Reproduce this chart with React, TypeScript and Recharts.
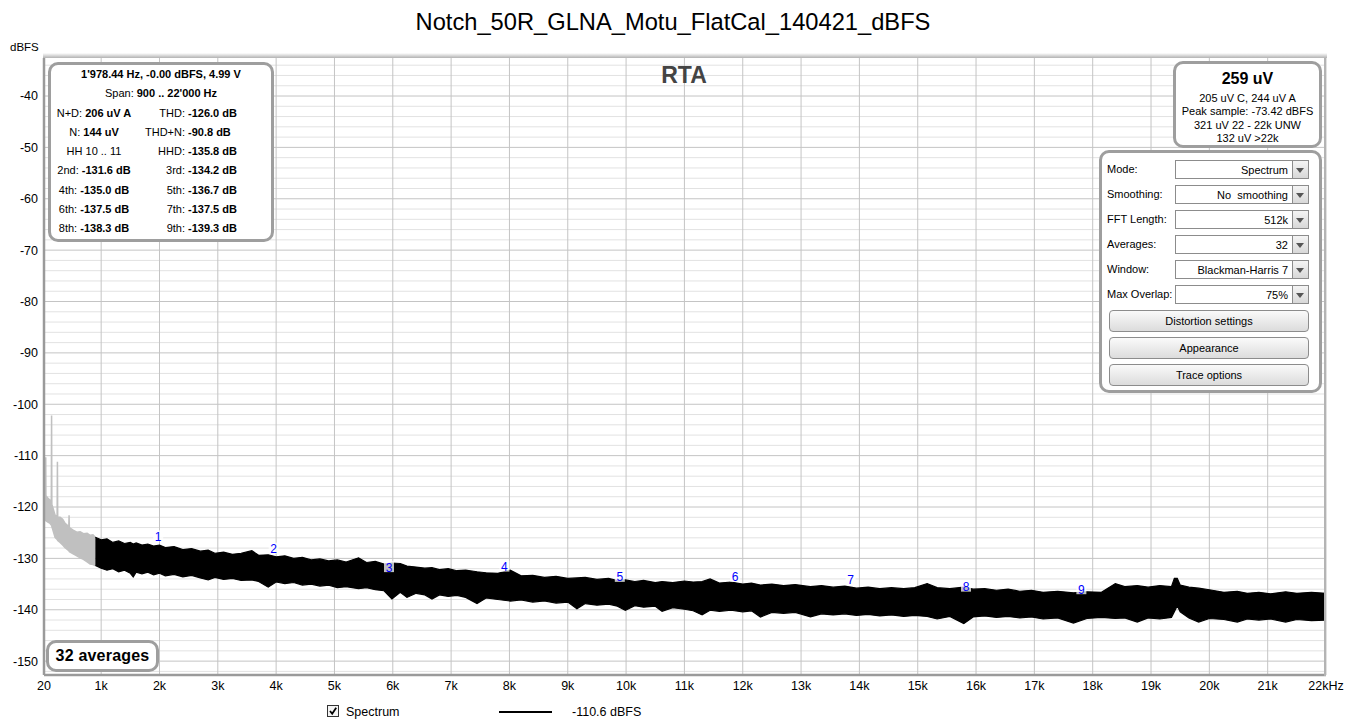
import React from "react";
import { ComposedChart, Area, Scatter, XAxis, YAxis, CartesianGrid } from "recharts";

const FONT = '"Liberation Sans", Arial, Helvetica, sans-serif';

// axis ticks
const freqTicks = [
  20, 1000, 2000, 3000, 4000, 5000, 6000, 7000, 8000, 9000, 10000, 11000,
  12000, 13000, 14000, 15000, 16000, 17000, 18000, 19000, 20000, 21000, 22000,
];
const levelTicks = [-150, -140, -130, -120, -110, -100, -90, -80, -70, -60, -50, -40];
const minorLevels = Array.from({ length: 60 }, (_, i) => -152 + 2 * i).filter(
  (v) => v % 10 !== 0 && v < -32
);

// below span start (grey part of the trace), with mains hum spikes
const grayFreq = [20, 40, 47, 50, 53, 80, 125, 145, 150, 155, 210, 245, 250, 255, 296, 340, 382, 445, 450, 455, 520, 582, 640, 696, 760, 811, 860, 900];
const grayTop = [-116.1, -117.0, -117.6, -110.3, -117.8, -118.2, -118.7, -119.0, -102.2, -119.5, -121.6, -121.8, -111.2, -122.0, -122.0, -122.4, -123.2, -123.8, -121.6, -124.0, -124.5, -124.9, -124.8, -125.2, -125.1, -125.5, -125.4, -125.9];
const grayBottom = [-122.2, -122.4, -122.6, -122.6, -122.7, -122.9, -123.2, -123.5, -123.6, -123.8, -125.9, -126.3, -126.4, -126.5, -126.9, -127.4, -127.9, -128.5, -128.6, -128.7, -129.1, -129.5, -129.9, -130.2, -130.7, -131.1, -131.2, -131.4];

// noise floor inside the 900 .. 22'000 Hz span (upper and lower edge of the trace)
const noiseFreq = [
  900, 1000, 1100, 1200, 1300, 1400, 1500, 1550, 1600, 1700, 1800, 1900, 2000, 2100, 2250, 2400, 2550, 2700, 2835, 2950,
  3100, 3250, 3400, 3584, 3700, 3864, 4000, 4150, 4300, 4450, 4600, 4750, 4900, 5050, 5200, 5413, 5550, 5700, 5850, 5985,
  6128, 6243, 6400, 6550, 6672, 6800, 6950, 7100, 7250, 7444, 7600, 7800, 8014, 8200, 8400, 8600, 8800, 9000, 9157, 9300,
  9500, 9700, 9850, 9987, 10150, 10300, 10500, 10617, 10800, 11000, 11150, 11303, 11440, 11600, 11800, 12000, 12150, 12303, 12500, 12700,
  12900, 13161, 13350, 13550, 13750, 13950, 14150, 14350, 14550, 14761, 14950, 15162, 15333, 15550, 15790, 15950, 16150, 16350, 16550, 16750,
  16950, 17150, 17400, 17670, 17900, 18150, 18388, 18550, 18764, 18950, 19150, 19350, 19400, 19450, 19500, 19650, 19817, 20000, 20250, 20479,
  20650, 20850, 21050, 21308, 21500, 21750, 22000,
];
const noiseTop = [
  -125.9, -126.4, -126.2, -126.9, -126.6, -127.1, -126.9, -127.2, -127.0, -127.4, -127.2, -127.6, -127.4, -127.9, -127.7, -128.3, -128.1, -128.6, -128.4, -129.0,
  -128.8, -129.2, -129.0, -128.5, -129.4, -129.3, -129.7, -129.5, -130.0, -129.8, -130.3, -130.1, -130.5, -130.3, -130.7, -129.9, -130.8, -130.6, -131.1, -130.9,
  -131.0, -131.5, -131.7, -131.9, -131.8, -132.2, -132.0, -132.4, -132.3, -132.6, -132.8, -132.9, -132.3, -133.4, -133.3, -133.7, -133.5, -133.9, -133.8, -133.7,
  -134.1, -133.9, -134.3, -134.2, -134.5, -134.3, -134.7, -134.5, -134.7, -134.4, -134.6, -134.5, -134.0, -134.8, -134.6, -135.0, -134.8, -135.2, -135.0, -135.3,
  -135.1, -135.5, -135.3, -135.6, -135.4, -135.8, -135.6, -135.9, -135.7, -135.9, -135.7, -134.9, -135.7, -135.9, -135.6, -136.0, -135.9, -136.2, -136.0, -136.4,
  -136.2, -136.6, -136.4, -136.7, -136.5, -136.6, -134.9, -135.5, -135.3, -135.6, -135.3, -135.5, -133.9, -133.9, -135.2, -135.6, -135.8, -136.1, -136.6, -136.4,
  -136.8, -136.6, -136.9, -136.5, -136.8, -136.6, -136.8,
];
const noiseBottom = [
  -131.4, -131.9, -132.3, -132.0, -132.6, -132.3, -132.9, -133.6, -132.7, -133.0, -132.7, -133.2, -132.9, -133.4, -133.1, -133.6, -133.3, -133.8, -134.2, -133.7,
  -134.1, -133.9, -134.3, -134.2, -134.5, -135.6, -134.6, -134.9, -134.7, -135.2, -135.0, -135.4, -135.2, -135.7, -135.5, -135.9, -135.7, -136.1, -136.3, -137.9,
  -136.6, -137.6, -136.8, -137.1, -137.9, -137.1, -137.4, -137.2, -137.6, -138.8, -137.7, -138.0, -138.3, -138.1, -138.5, -138.3, -138.7, -138.5, -139.8, -138.8,
  -139.1, -138.9, -139.3, -140.1, -139.2, -139.5, -139.3, -140.3, -139.6, -139.9, -140.2, -141.0, -140.1, -140.3, -140.1, -140.4, -140.2, -141.4, -140.5, -140.7,
  -140.5, -141.4, -140.8, -141.0, -140.8, -141.1, -140.9, -141.2, -141.0, -141.3, -141.1, -141.3, -141.8, -141.3, -142.7, -141.4, -141.2, -141.5, -141.3, -141.6,
  -141.4, -141.8, -141.6, -142.6, -141.7, -141.5, -141.7, -141.6, -142.4, -141.6, -141.8, -141.5, -140.4, -139.2, -140.4, -141.6, -142.4, -141.7, -141.9, -142.4,
  -141.8, -142.0, -141.8, -142.4, -141.9, -142.1, -142.0,
];

// harmonic markers (n x 1'978.44 Hz), level where the number is drawn
const harmonicNo = [1, 2, 3, 4, 5, 6, 7, 8, 9];
const harmonicFreq = [1978, 3957, 5935, 7914, 9892, 11871, 13849, 15828, 17806];
const harmonicLevel = [-125.7, -128.1, -131.7, -131.6, -133.6, -133.6, -134.1, -135.5, -136.0];

const infoRows = [
  ["N+D:", "206 uV A", "THD:", "-126.0 dB"],
  ["N:", "144 uV", "THD+N:", "-90.8 dB"],
  ["HH 10 .. 11", "", "HHD:", "-135.8 dB"],
  ["2nd:", "-131.6 dB", "3rd:", "-134.2 dB"],
  ["4th:", "-135.0 dB", "5th:", "-136.7 dB"],
  ["6th:", "-137.5 dB", "7th:", "-137.5 dB"],
  ["8th:", "-138.3 dB", "9th:", "-139.3 dB"],
];
const levelLines = ["205 uV C, 244 uV A", "Peak sample: -73.42 dBFS", "321 uV 22 - 22k UNW", "132 uV >22k"];
const controls = [
  ["Mode:", "Spectrum"],
  ["Smoothing:", "No  smoothing"],
  ["FFT Length:", "512k"],
  ["Averages:", "32"],
  ["Window:", "Blackman-Harris 7"],
  ["Max Overlap:", "75%"],
];
const buttons = ["Distortion settings", "Appearance", "Trace options"];

const grayData = grayFreq.map((f, i) => ({ f, range: [grayBottom[i], grayTop[i]] }));
const noiseData = noiseFreq.map((f, i) => ({ f, range: [noiseBottom[i], noiseTop[i]] }));
const harmonicData = harmonicNo.map((n, i) => ({ n, f: harmonicFreq[i], db: harmonicLevel[i] }));

const fmtFreq = (v: number) => (v === 20 ? "20" : v === 22000 ? "22kHz" : `${v / 1000}k`);

const HarmonicLabel = (props: any) => {
  const { cx, cy, payload } = props;
  return (
    <g>
      <rect x={cx - 5} y={cy - 6} width={10} height={11} fill="#fff" fillOpacity={0.75} />
      <text x={cx} y={cy + 4.5} textAnchor="middle" fontSize={12} fill="#0000ff" fontFamily={FONT}>
        {payload.n}
      </text>
    </g>
  );
};

const boxStyle: React.CSSProperties = {
  position: "absolute",
  border: "3px solid #9e9e9e",
  borderRadius: 10,
  background: "#fff",
  boxSizing: "border-box",
};

export default function App() {
  return (
    <div style={{ position: "absolute", left: 0, top: 0, width: 1346, height: 726, background: "#fff", fontFamily: FONT, color: "#000", overflow: "hidden" }}>
      <div style={{ position: "absolute", left: 0, top: 8, width: 1346, textAlign: "center", fontSize: 23.7, lineHeight: "28px" }}>
        Notch_50R_GLNA_Motu_FlatCal_140421_dBFS
      </div>
      <div style={{ position: "absolute", left: 10, top: 41, fontSize: 11.5 }}>dBFS</div>

      <div style={{ position: "absolute", left: 0, top: 0 }}>
        <ComposedChart width={1346} height={726} margin={{ top: 58, right: 20, bottom: 21, left: 0 }}>
          <CartesianGrid horizontalValues={minorLevels} vertical={false} stroke="#e2e2e2" />
          <CartesianGrid horizontalValues={levelTicks} verticalValues={freqTicks} stroke="#c4c4c4" />
          <XAxis
            dataKey="f"
            type="number"
            domain={[20, 22000]}
            ticks={freqTicks}
            interval={0}
            allowDataOverflow
            height={30}
            tickFormatter={fmtFreq}
            tickLine={false}
            tickSize={6}
            tickMargin={0}
            axisLine={{ stroke: "#9a9a9a", strokeWidth: 2.5 }}
            tick={{ fontSize: 12.5, fill: "#000", fontFamily: FONT }}
          />
          <YAxis
            type="number"
            domain={[-152.7, -32.6]}
            ticks={levelTicks}
            interval={0}
            allowDataOverflow
            width={44}
            tickLine={false}
            tickSize={6}
            tickMargin={0}
            axisLine={{ stroke: "#9a9a9a", strokeWidth: 2.5 }}
            tick={{ fontSize: 12.5, fill: "#000", fontFamily: FONT }}
          />
          <Area data={grayData} dataKey="range" type="linear" stroke="#c0c0c0" strokeWidth={1.5} fill="#c0c0c0" fillOpacity={1} dot={false} activeDot={false} isAnimationActive={false} />
          <Area data={noiseData} dataKey="range" type="linear" stroke="#000" strokeWidth={1.2} fill="#000" fillOpacity={1} dot={false} activeDot={false} isAnimationActive={false} />
          <Scatter data={harmonicData} dataKey="db" shape={HarmonicLabel} isAnimationActive={false} />
        </ComposedChart>
      </div>

      {/* plot frame decorations */}
      <div style={{ position: "absolute", left: 43, top: 53, width: 1284, height: 5, background: "linear-gradient(to bottom, rgba(0,0,0,0), rgba(0,0,0,0.3))" }} />
      <div style={{ position: "absolute", left: 1324, top: 58, width: 2, height: 618, background: "#b4b4b4" }} />

      <div style={{ position: "absolute", left: 600, top: 62, width: 168, textAlign: "center", fontSize: 23, fontWeight: "bold", color: "#444" }}>RTA</div>

      {/* measurement summary */}
      <div style={{ ...boxStyle, left: 48, top: 62, width: 226, height: 180 }} />
      <div style={{ position: "absolute", left: 48, top: 68, width: 226, textAlign: "center", fontSize: 11, fontWeight: "bold" }}>
        1'978.44 Hz, -0.00 dBFS, 4.99 V
      </div>
      <div style={{ position: "absolute", left: 48, top: 87, width: 226, textAlign: "center", fontSize: 11 }}>
        Span: <b>900 .. 22'000 Hz</b>
      </div>
      {infoRows.map((r, i) => (
        <div key={r[2]} style={{ position: "absolute", left: 0, top: 106 + i * 19.15, fontSize: 11, lineHeight: "14px" }}>
          <div style={{ position: "absolute", left: 48, width: 92, textAlign: "center", whiteSpace: "nowrap" }}>
            {r[0]} <b>{r[1]}</b>
          </div>
          <div style={{ position: "absolute", left: 125, width: 60, textAlign: "right", whiteSpace: "nowrap" }}>{r[2]}</div>
          <div style={{ position: "absolute", left: 188, whiteSpace: "nowrap", fontWeight: "bold" }}>{r[3]}</div>
        </div>
      ))}

      {/* level box */}
      <div style={{ ...boxStyle, left: 1173, top: 61, width: 149, height: 87 }} />
      <div style={{ position: "absolute", left: 1173, top: 70, width: 149, textAlign: "center", fontSize: 16, fontWeight: "bold" }}>259 uV</div>
      {levelLines.map((t, i) => (
        <div key={t} style={{ position: "absolute", left: 1173, top: 90.5 + i * 13.6, width: 149, textAlign: "center", fontSize: 11, lineHeight: "14px" }}>
          {t}
        </div>
      ))}

      {/* control panel */}
      <div style={{ ...boxStyle, left: 1099, top: 150, width: 223, height: 243 }} />
      {controls.map((c, i) => (
        <div key={c[0]} style={{ position: "absolute", left: 0, top: 160 + i * 25, fontSize: 11, lineHeight: "19px" }}>
          <div style={{ position: "absolute", left: 1107, whiteSpace: "nowrap" }}>{c[0]}</div>
          <div style={{ position: "absolute", left: 1175, width: 118, height: 19, boxSizing: "border-box", border: "1px solid #8c8c8c", background: "#fff", textAlign: "right", paddingRight: 4, whiteSpace: "pre" }}>
            {c[1]}
          </div>
          <div style={{ position: "absolute", left: 1293, width: 16, height: 19, boxSizing: "border-box", border: "1px solid #8c8c8c", borderLeft: "none", background: "linear-gradient(#f4f4f4, #d8d8d8)" }}>
            <div style={{ position: "absolute", left: 3, top: 7, width: 0, height: 0, borderLeft: "4.5px solid transparent", borderRight: "4.5px solid transparent", borderTop: "5px solid #555" }} />
          </div>
        </div>
      ))}
      {buttons.map((b, i) => (
        <div key={b} style={{ position: "absolute", left: 1109, top: 310 + i * 27, width: 200, height: 22, boxSizing: "border-box", border: "1px solid #8c8c8c", borderRadius: 4, background: "linear-gradient(#fafafa, #dcdcdc)", textAlign: "center", fontSize: 11, lineHeight: "20px" }}>
          {b}
        </div>
      ))}

      {/* averages badge */}
      <div style={{ ...boxStyle, left: 46, top: 640, width: 113, height: 32, textAlign: "center", fontSize: 16, fontWeight: "bold", lineHeight: "26px", letterSpacing: 0.2 }}>
        32 averages
      </div>

      {/* legend */}
      <div style={{ position: "absolute", left: 327, top: 705, width: 12, height: 12, boxSizing: "border-box", border: "1px solid #333", background: "#f4f4f4" }}>
        <svg width={10} height={10} style={{ position: "absolute", left: 0, top: 0 }}>
          <path d="M2 5 L4.2 7.8 L8.2 1.8" stroke="#000" strokeWidth={1.8} fill="none" />
        </svg>
      </div>
      <div style={{ position: "absolute", left: 346, top: 704, fontSize: 12.5, lineHeight: "16px" }}>Spectrum</div>
      <div style={{ position: "absolute", left: 499, top: 711, width: 53, height: 2, background: "#000" }} />
      <div style={{ position: "absolute", left: 572, top: 704, fontSize: 12.5, lineHeight: "16px" }}>-110.6 dBFS</div>
    </div>
  );
}
